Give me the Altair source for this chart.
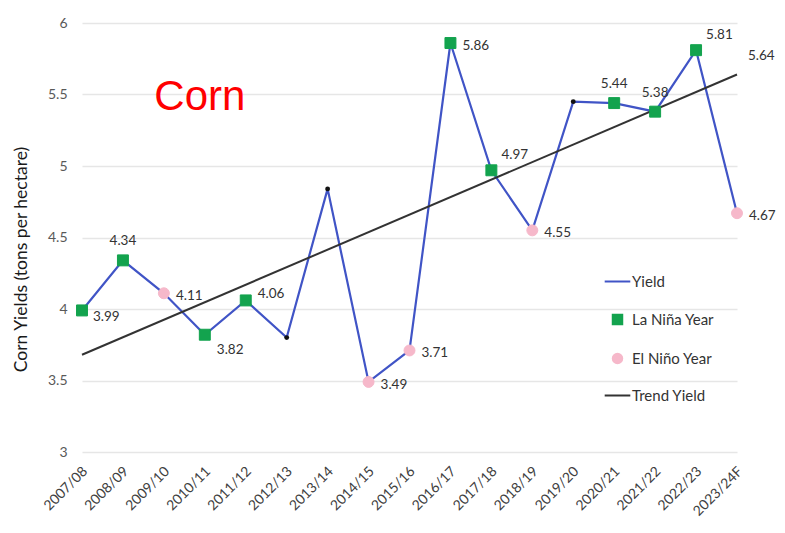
import altair as alt
import pandas as pd

seasons = ["2007/08", "2008/09", "2009/10", "2010/11", "2011/12", "2012/13",
           "2013/14", "2014/15", "2015/16", "2016/17", "2017/18", "2018/19",
           "2019/20", "2020/21", "2021/22", "2022/23", "2023/24F"]
yields = [3.99, 4.34, 4.11, 3.82, 4.06, 3.80, 4.84, 3.49, 3.71, 5.86, 4.97,
          4.55, 5.45, 5.44, 5.38, 5.81, 4.67]
phase = ["La Niña Year", "La Niña Year", "El Niño Year", "La Niña Year",
         "La Niña Year", "Yield", "Yield", "El Niño Year", "El Niño Year",
         "La Niña Year", "La Niña Year", "El Niño Year", "Yield",
         "La Niña Year", "La Niña Year", "La Niña Year", "El Niño Year"]
# where each value label sits relative to its point (r=right, rl=right-low,
# rd=right-below, ru=right-above, a=above, ar=above-right, ""=no label)
label_spot = ["rl", "a", "r", "rd", "ru", "", "", "r", "r", "r", "ar", "r",
              "", "a", "a", "ar", "r"]
trend_seasons = ["2007/08", "2023/24F"]
trend_values = [3.68, 5.64]
trend_label_spot = ["", "tr"]

legend_names = ["Yield", "La Niña Year", "El Niño Year", "Trend Yield"]
legend_colors = ["#4054C6", "#13A34E", "#F6B8CA", "#333333"]

df = pd.DataFrame({"season": seasons, "value": yields, "phase": phase,
                   "spot": label_spot})
df["label"] = df["value"].map(lambda v: f"{v:.2f}")
tdf = pd.DataFrame({"season": trend_seasons, "value": trend_values,
                    "spot": trend_label_spot})
tdf["label"] = tdf["value"].map(lambda v: f"{v:.2f}")

FONT = "Lato"

x_enc = alt.X("season:N", sort=seasons,
              scale=alt.Scale(type="point", domain=seasons, padding=0),
              axis=alt.Axis(title=None, labelAngle=-45, labelAlign="right",
                            labelBaseline="middle", labelPadding=17,
                            labelOffset=3,
                            labelFontSize=14, labelColor="#404040",
                            labelFont=FONT, domain=False, ticks=False,
                            grid=False))
y_enc = alt.Y("value:Q",
              scale=alt.Scale(domain=[3, 6], nice=False, zero=False),
              axis=alt.Axis(title="Corn Yields (tons per hectare)",
                            values=[3, 3.5, 4, 4.5, 5, 5.5, 6],
                            labelExpr="'' + datum.value",
                            labelFontSize=14, labelColor="#595959",
                            labelFont=FONT, labelPadding=15,
                            domain=False, ticks=False, grid=True,
                            gridColor="#E6E6E6", gridWidth=1.5,
                            titleFont=FONT, titleFontSize=17.5,
                            titleFontWeight="normal", titleColor="#1a1a1a",
                            titleX=-61, titleY=236, titleAngle=-90,
                            titleAlign="center", titleBaseline="middle"))

base = alt.Chart(df)

yield_line = base.mark_line(color="#4054C6", strokeWidth=2.2).encode(
    x=x_enc, y=y_enc)

trend_line = alt.Chart(tdf).mark_line(color="#333333", strokeWidth=2).encode(
    x=alt.X("season:N", sort=seasons), y="value:Q")

neutral_dots = base.transform_filter(alt.datum.phase == "Yield").mark_point(
    filled=True, color="#111111", shape="circle", size=24, opacity=1).encode(
    x=alt.X("season:N", sort=seasons), y="value:Q")

cat_scale_fill = alt.Scale(domain=legend_names, range=legend_colors)
shape_scale = alt.Scale(domain=legend_names,
                        range=["M-2.7,0H2.7", "square", "circle", "M-2.7,0H2.7"])

leg = alt.Legend(title=None, orient="none", legendX=528, legendY=251,
                 direction="vertical", symbolSize=90, symbolStrokeWidth=2,
                 labelOffset=7, labelFont=FONT, labelFontSize=15,
                 labelColor="#333333", rowPadding=20, padding=0,
                 symbolOpacity=1)

enso_points = base.transform_filter(alt.datum.phase != "Yield").mark_point(
    filled=True, size=120, opacity=1, strokeWidth=1).encode(
    x=alt.X("season:N", sort=seasons), y="value:Q",
    fill=alt.Fill("phase:N", scale=cat_scale_fill, legend=leg),
    stroke=alt.Stroke("phase:N", scale=cat_scale_fill, legend=leg),
    shape=alt.Shape("phase:N", scale=shape_scale, legend=leg))

spots = {
    "r": dict(dx=12, dy=3, align="left"),
    "rl": dict(dx=11, dy=7, align="left"),
    "rd": dict(dx=12, dy=15, align="left"),
    "ru": dict(dx=12, dy=-6, align="left"),
    "a": dict(dx=0, dy=-19, align="center"),
    "ar": dict(dx=10, dy=-15, align="left"),
}

label_layers = []
for key, kw in spots.items():
    label_layers.append(
        base.transform_filter(alt.datum.spot == key).mark_text(
            font=FONT, fontSize=13.5, color="#333333", baseline="middle", **kw
        ).encode(x=alt.X("season:N", sort=seasons), y="value:Q", text="label:N"))

trend_label = alt.Chart(tdf).transform_filter(alt.datum.spot == "tr").mark_text(
    font=FONT, fontSize=13.5, color="#333333", baseline="middle", align="left",
    dx=11, dy=-18).encode(x=alt.X("season:N", sort=seasons), y="value:Q",
                         text="label:N")

title_df = pd.DataFrame({"season": ["2010/11"], "value": [5.5], "t": ["Corn"]})
corn_title = alt.Chart(title_df).mark_text(
    font="Liberation Sans", fontSize=42, color="#FF0000", align="center",
    baseline="middle", dx=-5, dy=2).encode(
    x=alt.X("season:N", sort=seasons), y="value:Q", text="t:N")

chart = alt.layer(
    yield_line, trend_line, neutral_dots, enso_points, *label_layers,
    trend_label, corn_title
).properties(
    width=655, height=429,
    background="white",
    autosize=alt.AutoSizeParams(type="none"),
    padding={"left": 74, "top": 15, "right": 40, "bottom": 72},
).configure_view(stroke=None)

chart.save("out.html", embed_options={"renderer": "svg", "actions": False})
